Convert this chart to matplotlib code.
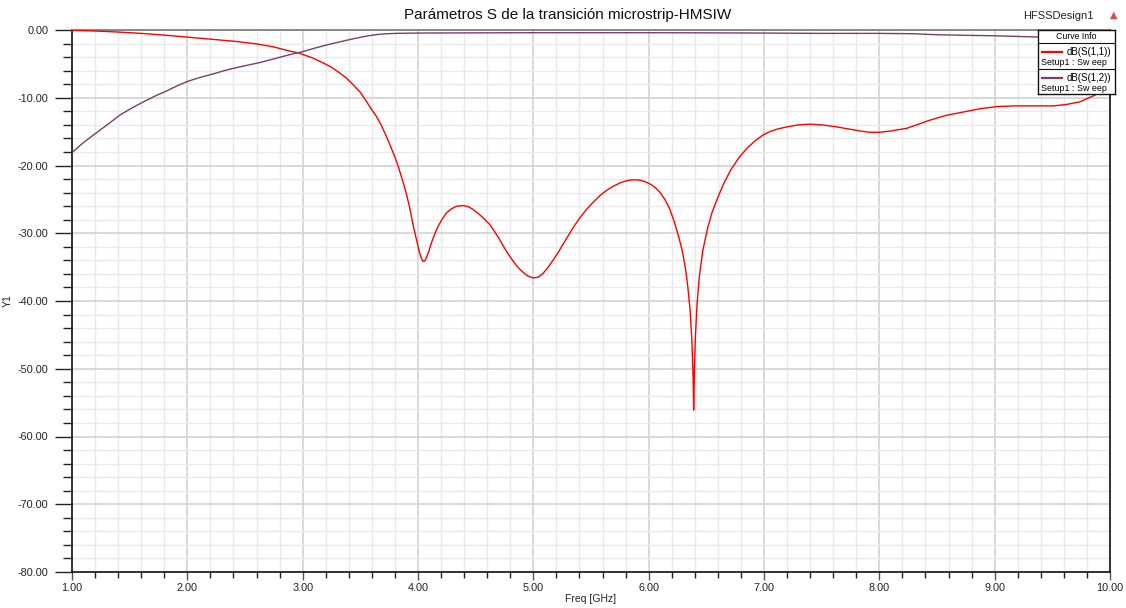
import matplotlib
matplotlib.use("Agg")
import matplotlib.pyplot as plt
from matplotlib.ticker import MultipleLocator, FormatStrFormatter
from matplotlib.lines import Line2D

plt.rcParams["font.family"] = ["Liberation Sans", "DejaVu Sans"]

# ── Data: S-parameters of the microstrip-HMSIW transition ────────────────────
s11_freq = [1.00, 1.20, 1.40, 1.60, 1.80, 2.00, 2.20, 2.40, 2.60, 2.75,
            2.884, 2.957, 3.00, 3.09, 3.174, 3.25, 3.319, 3.38, 3.435, 3.50,
            3.551, 3.60, 3.638, 3.68, 3.725, 3.76, 3.797, 3.83, 3.855, 3.88,
            3.904, 3.925, 3.942, 3.96, 3.980, 4.00, 4.014, 4.03, 4.043, 4.058,
            4.072, 4.095, 4.116, 4.145, 4.174, 4.21, 4.246, 4.29, 4.333, 4.391,
            4.44, 4.478, 4.52, 4.565, 4.623, 4.65, 4.70, 4.74, 4.78, 4.82,
            4.86, 4.90, 4.95, 5.00, 5.04, 5.08, 5.12, 5.17, 5.22, 5.28,
            5.34, 5.40, 5.46, 5.52, 5.58, 5.64, 5.70, 5.76, 5.82, 5.87,
            5.92, 5.97, 6.02, 6.06, 6.10, 6.14, 6.18, 6.22, 6.26, 6.29,
            6.32, 6.34, 6.36, 6.375, 6.385, 6.39, 6.397, 6.405, 6.42, 6.44,
            6.47, 6.51, 6.55, 6.60, 6.65, 6.71, 6.78, 6.85, 6.92, 6.99,
            7.05, 7.12, 7.20, 7.30, 7.40, 7.50, 7.63, 7.73, 7.83, 7.92,
            8.00, 8.10, 8.24, 8.34, 8.44, 8.58, 8.73, 8.88, 9.02, 9.17,
            9.31, 9.51, 9.62, 9.74, 9.87, 10.00]
s11_db = [-0.05, -0.15, -0.30, -0.50, -0.75, -1.05, -1.35, -1.65, -2.05, -2.50,
          -3.10, -3.35, -3.60, -4.15, -4.83, -5.50, -6.31, -7.10, -8.03, -9.20,
          -10.49, -11.80, -12.71, -14.00, -15.67, -17.10, -18.62, -20.20, -21.58, -23.00,
          -24.53, -26.00, -27.49, -29.00, -30.44, -31.90, -32.91, -33.70, -34.14, -34.10,
          -33.65, -32.60, -31.43, -30.10, -28.97, -27.90, -26.99, -26.40, -26.01, -25.91,
          -26.10, -26.50, -27.05, -27.73, -28.72, -29.40, -30.70, -31.90, -33.00, -34.00,
          -34.90, -35.60, -36.30, -36.60, -36.50, -36.00, -35.20, -34.00, -32.70, -31.00,
          -29.30, -27.80, -26.50, -25.40, -24.40, -23.60, -23.00, -22.50, -22.20, -22.10,
          -22.15, -22.40, -22.80, -23.30, -24.00, -25.00, -26.30, -28.20, -30.50, -32.50,
          -35.30, -38.00, -41.50, -46.00, -51.00, -56.10, -50.00, -45.30, -40.30, -36.30,
          -32.50, -29.30, -26.90, -24.70, -22.70, -20.70, -18.90, -17.50, -16.40, -15.50,
          -15.00, -14.60, -14.30, -14.00, -13.90, -14.00, -14.30, -14.60, -14.90, -15.10,
          -15.10, -14.90, -14.50, -13.90, -13.30, -12.60, -12.10, -11.60, -11.30, -11.20,
          -11.20, -11.20, -11.00, -10.60, -9.60, -8.50]

s12_freq = [1.00, 1.10, 1.21, 1.32, 1.42, 1.52, 1.62, 1.72, 1.82, 1.91,
            2.00, 2.11, 2.22, 2.31, 2.40, 2.52, 2.63, 2.73, 2.83, 2.92,
            3.00, 3.10, 3.21, 3.31, 3.41, 3.51, 3.56, 3.61, 3.66, 3.72,
            3.80, 3.90, 4.00, 4.50, 5.00, 5.50, 6.00, 6.50, 7.00, 7.50,
            8.00, 8.30, 8.50, 8.80, 9.00, 9.30, 9.50, 9.80, 10.00]
s12_db = [-18.1, -16.6, -15.2, -13.8, -12.5, -11.5, -10.6, -9.75, -9.0, -8.25,
          -7.6, -7.0, -6.5, -6.05, -5.65, -5.2, -4.8, -4.35, -3.9, -3.5,
          -3.2, -2.7, -2.2, -1.8, -1.4, -1.05, -0.88, -0.75, -0.64, -0.56,
          -0.50, -0.47, -0.45, -0.42, -0.40, -0.40, -0.40, -0.42, -0.45, -0.50,
          -0.50, -0.55, -0.70, -0.80, -0.85, -1.00, -1.10, -1.20, -1.30]

RED = "#ff0000"
PURPLE = "#7b3d6b"
W, H = 1126, 608

# ── Canvas ───────────────────────────────────────────────────────────────────
fig = plt.figure(figsize=(W / 100, H / 100), dpi=100)
fig.patch.set_facecolor("white")

def px_box(x0, y0, x1, y1):
    """Pixel box (top-left origin) -> figure fraction rect."""
    return [x0 / W, 1 - y1 / H, (x1 - x0) / W, (y1 - y0) / H]

ax = fig.add_axes(px_box(72, 30, 1110, 572))
ax.plot(s11_freq, s11_db, color=RED, lw=1.0, zorder=3)
ax.plot(s12_freq, s12_db, color=PURPLE, lw=1.0, zorder=3)

ax.set_xlim(1, 10)
ax.set_ylim(-80, 0)
ax.xaxis.set_major_locator(MultipleLocator(1))
ax.xaxis.set_minor_locator(MultipleLocator(0.2))
ax.yaxis.set_major_locator(MultipleLocator(10))
ax.yaxis.set_minor_locator(MultipleLocator(2))
ax.xaxis.set_major_formatter(FormatStrFormatter("%.2f"))
ax.yaxis.set_major_formatter(FormatStrFormatter("%.2f"))

ax.grid(which="major", color="#d2d2d2", lw=1.2, zorder=0)
ax.grid(which="minor", color="#e9e9e9", lw=1.0, zorder=0)
ax.set_axisbelow(True)

ax.tick_params(axis="y", which="major", direction="out", length=12.5, width=1.0,
               color="#222222", labelsize=7.8, labelcolor="#222222", pad=4.5)
ax.tick_params(axis="y", which="minor", direction="out", length=6.5, width=1.0,
               color="#222222")
ax.tick_params(axis="x", which="major", direction="out", length=6, width=1.0,
               color="#555555", labelsize=7.8, labelcolor="#222222", pad=2)
ax.tick_params(axis="x", which="minor", direction="out", length=4, width=1.0,
               color="#222222")

for side in ("left", "bottom", "right"):
    ax.spines[side].set_color("#111111")
    ax.spines[side].set_linewidth(1.2)
ax.spines["top"].set_color("#777777")
ax.spines["top"].set_linewidth(1.2)

ax.set_xlabel("Freq [GHz]", fontsize=7.5, color="#222222", labelpad=1)
ax.set_ylabel("Y1", fontsize=7.5, color="#222222", labelpad=2)
ax.yaxis.set_label_coords(-0.057, 0.5)

# ── Titles ───────────────────────────────────────────────────────────────────
fig.text(568 / W, 1 - 15 / H, "Parámetros S de la transición microstrip-HMSIW",
         ha="center", va="center", fontsize=11, color="#111111")
fig.text(1094 / W, 1 - 16 / H, "HFSSDesign1", ha="right", va="center",
         fontsize=8, color="#222222")
fig.text(1114 / W, 1 - 15 / H, "▲", ha="center", va="center", fontsize=7,
         color="#d84a4a", family="DejaVu Sans")

# ── Curve info box ───────────────────────────────────────────────────────────
lg = fig.add_axes(px_box(1038, 30, 1115, 94), zorder=5)
lg.set_xlim(0, 77)
lg.set_ylim(64, 0)
lg.set_xticks([])
lg.set_yticks([])
lg.set_facecolor("white")
for sp in lg.spines.values():
    sp.set_color("#111111")
    sp.set_linewidth(1.0)

lg.text(38.5, 6.7, "Curve Info", ha="center", va="center", fontsize=6.3)
lg.add_line(Line2D([0, 77], [13.3, 13.3], color="#111111", lw=0.8))
lg.add_line(Line2D([0, 77], [39.3, 39.3], color="#111111", lw=0.8))

entries = [("dB(S(1,1))", RED, 22.3), ("dB(S(1,2))", PURPLE, 48.3)]
for name, col, yy in entries:
    lg.add_line(Line2D([3.7, 23.7], [yy, yy], color=col, lw=1.6))
    lg.text(73.5, yy, name, ha="right", va="center", fontsize=7.0)
    lg.text(3.0, yy + 10, "Setup1 : Sw eep", ha="left", va="center", fontsize=6.4)

fig.savefig("out.png", dpi=100)
